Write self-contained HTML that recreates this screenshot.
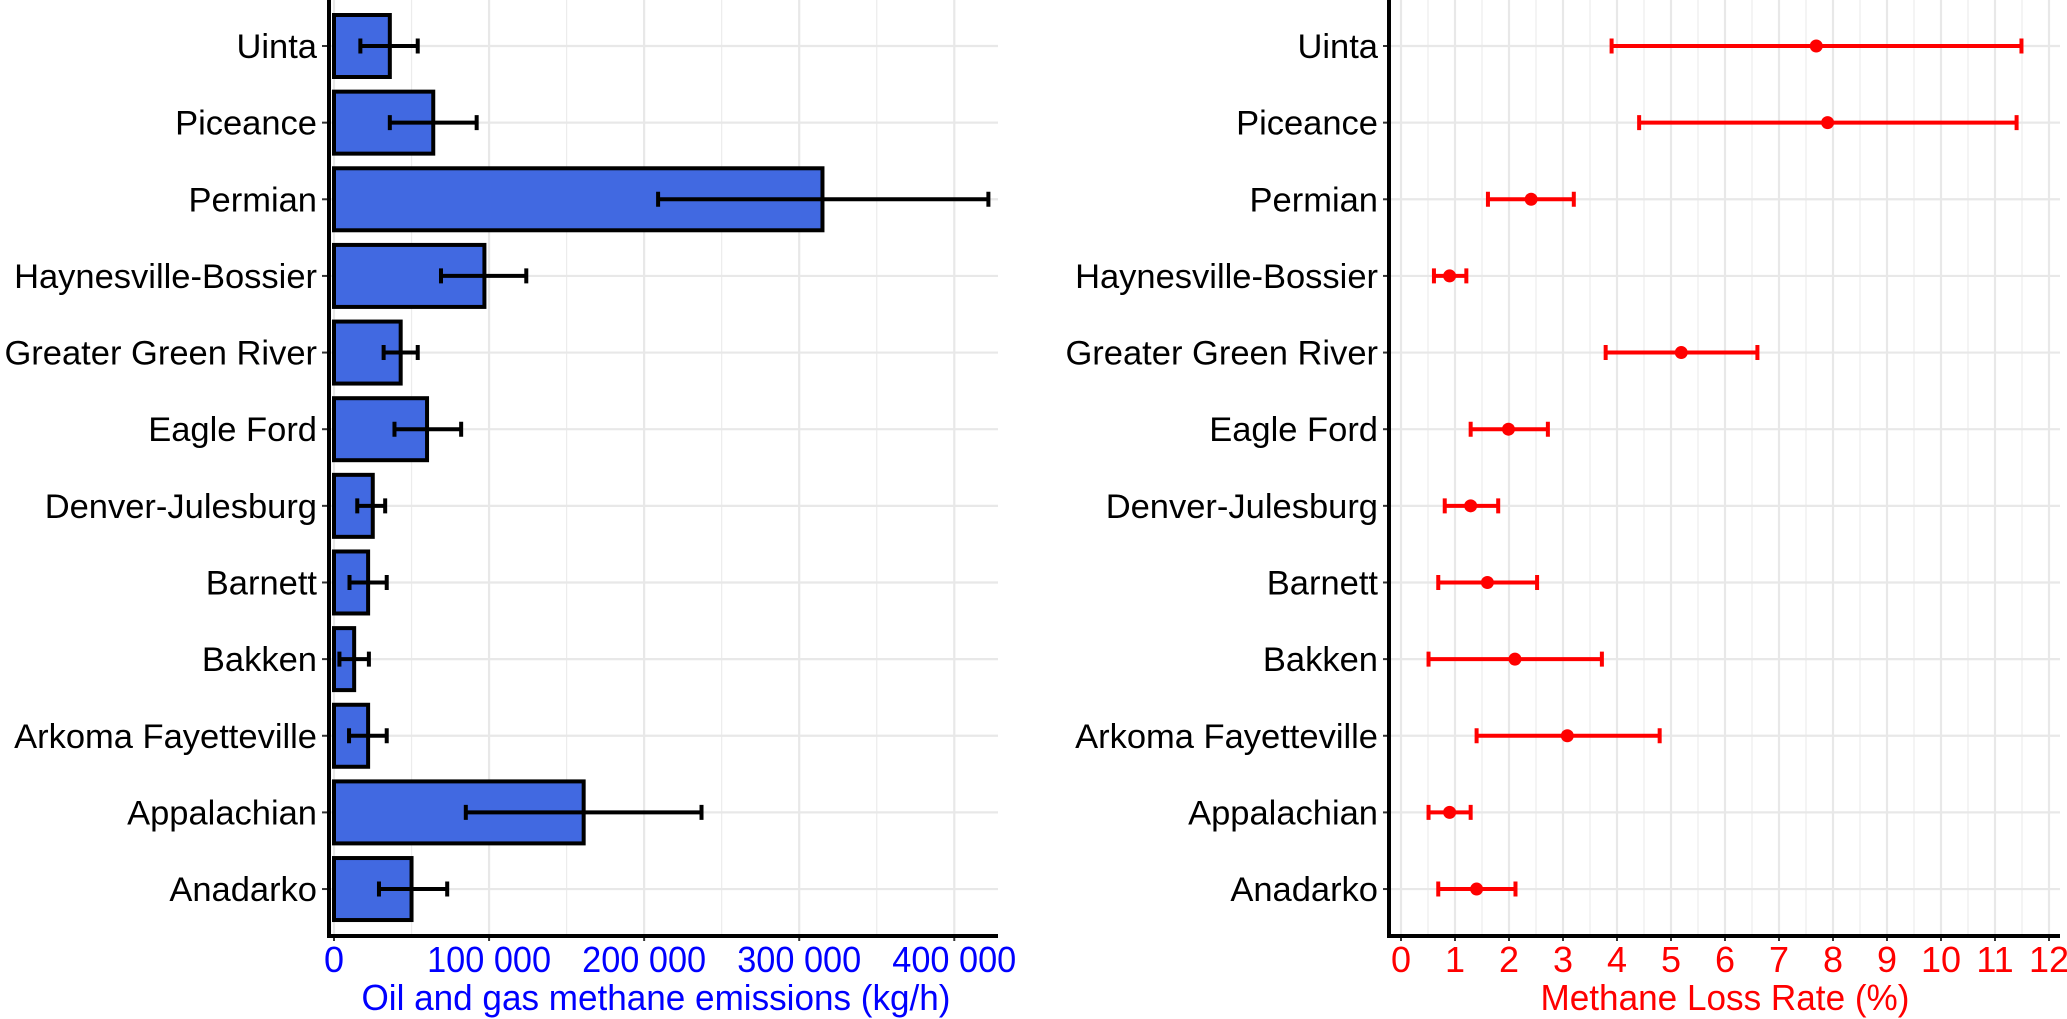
<!DOCTYPE html>
<html><head><meta charset="utf-8"><style>
html,body{margin:0;padding:0;background:#fff;}
svg{display:block;font-family:"Liberation Sans",Arial,sans-serif;}
</style></head><body>
<svg id="chart" width="2067" height="1019" viewBox="0 0 2067 1019" xmlns="http://www.w3.org/2000/svg">
<g id="left"></g>
<g id="right"></g>
</svg>
<script>
const basins = ["Uinta","Piceance","Permian","Haynesville-Bossier","Greater Green River","Eagle Ford","Denver-Julesburg","Barnett","Bakken","Arkoma Fayetteville","Appalachian","Anadarko"];
const emissions = [36000,64000,315000,97000,43000,60000,25000,22000,13000,22000,161000,50000];
const emissionsLow = [17000,36000,209000,69000,32000,39000,15000,10000,3500,9700,85000,29000];
const emissionsHigh = [54000,92000,422000,124000,54000,82000,33000,34000,22500,34000,237000,73000];
const lossRate = [7.69,7.90,2.41,0.90,5.19,1.99,1.29,1.60,2.11,3.08,0.90,1.40];
const lossLow = [3.90,4.41,1.61,0.61,3.79,1.29,0.81,0.69,0.51,1.40,0.51,0.69];
const lossHigh = [11.49,11.40,3.20,1.21,6.60,2.72,1.80,2.52,3.72,4.79,1.29,2.12];
const leftTicks = [0,100000,200000,300000,400000];
const leftTickLabels = ["0","100 000","200 000","300 000","400 000"];
const rightTicks = [0,1,2,3,4,5,6,7,8,9,10,11,12];

const NS="http://www.w3.org/2000/svg";
function mk(parent,tag,attrs,text){const e=document.createElementNS(NS,tag);for(const k in attrs)e.setAttribute(k,attrs[k]);if(text!==undefined)e.textContent=text;parent.appendChild(e);return e;}
const yPos=i=>46+i*76.64;
const yTop=0, yBot=934;
const xL=v=>334+v*155.07/100000;
const xR=v=>1401+v*54;

// LEFT PANEL
const L=document.getElementById('left');
for(let v=50000;v<=400000;v+=100000){const g=mk(L,'line',{x1:xL(v),x2:xL(v),y1:yTop,y2:yBot,stroke:'#ececec','stroke-width':1.2});

}
leftTicks.forEach(v=>{const g=mk(L,'line',{x1:xL(v),x2:xL(v),y1:yTop,y2:yBot,stroke:'#e8e8e8','stroke-width':2.2});

});
basins.forEach((b,i)=>{const g=mk(L,'line',{x1:329,x2:998,y1:yPos(i),y2:yPos(i),stroke:'#e8e8e8','stroke-width':2.2});

});
basins.forEach((b,i)=>{
  const y=yPos(i);
  const r=mk(L,'rect',{x:xL(0),y:y-31,width:xL(emissions[i])-xL(0),height:62,fill:'#4169e1',stroke:'#000','stroke-width':4});
  
  
  const eb=mk(L,'path',{d:`M${xL(emissionsLow[i])},${y}H${xL(emissionsHigh[i])}M${xL(emissionsLow[i])},${y-7.5}V${y+7.5}M${xL(emissionsHigh[i])},${y-7.5}V${y+7.5}`,stroke:'#000','stroke-width':4,fill:'none'});
  
  
  const t=mk(L,'text',{x:317,y:y+12,'text-anchor':'end','font-size':34.5,fill:'#000'},b);
  
  
  const tk=mk(L,'line',{x1:322,x2:329,y1:y,y2:y,stroke:'#333','stroke-width':2});
  
  
});
leftTicks.forEach((v,i)=>{
  const tk=mk(L,'line',{x1:xL(v),x2:xL(v),y1:934,y2:941,stroke:'#333','stroke-width':2});
  
  
  const attrs={x:xL(v),y:972,'text-anchor':'middle','font-size':36,fill:'#0000ff'};
  if(leftTickLabels[i].length>1){attrs.textLength=124;attrs.lengthAdjust='spacingAndGlyphs';}
  const t=mk(L,'text',attrs,leftTickLabels[i]);
  
  
});
let ax=mk(L,'path',{d:'M329,0V936H998',stroke:'#000','stroke-width':4,fill:'none'});


let tt=mk(L,'text',{x:656,y:1010,'text-anchor':'middle','font-size':36,fill:'#0000ff',textLength:589,lengthAdjust:'spacingAndGlyphs'},'Oil and gas methane emissions (kg/h)');



// RIGHT PANEL
const R=document.getElementById('right');
for(let v=0.5;v<12;v+=1){const g=mk(R,'line',{x1:xR(v),x2:xR(v),y1:yTop,y2:yBot,stroke:'#ececec','stroke-width':1.2});

}
rightTicks.forEach(v=>{const g=mk(R,'line',{x1:xR(v),x2:xR(v),y1:yTop,y2:yBot,stroke:'#e8e8e8','stroke-width':2.2});

});
basins.forEach((b,i)=>{
  const y=yPos(i);
  const g=mk(R,'line',{x1:1389,x2:2060,y1:y,y2:y,stroke:'#e8e8e8','stroke-width':2.2});
  
  
});
basins.forEach((b,i)=>{
  const y=yPos(i);
  const eb=mk(R,'path',{d:`M${xR(lossLow[i])},${y}H${xR(lossHigh[i])}M${xR(lossLow[i])},${y-7.5}V${y+7.5}M${xR(lossHigh[i])},${y-7.5}V${y+7.5}`,stroke:'#ff0000','stroke-width':4,fill:'none'});
  
  
  const p=mk(R,'circle',{cx:xR(lossRate[i]),cy:y,r:6.5,fill:'#ff0000'});
  
  
  const t=mk(R,'text',{x:1378,y:y+12,'text-anchor':'end','font-size':34.5,fill:'#000'},b);
  
  
  const tk=mk(R,'line',{x1:1383,x2:1389,y1:y,y2:y,stroke:'#333','stroke-width':2});
  
  
});
rightTicks.forEach(v=>{
  const tk=mk(R,'line',{x1:xR(v),x2:xR(v),y1:934,y2:941,stroke:'#333','stroke-width':2});
  
  
  const t=mk(R,'text',{x:xR(v),y:972,'text-anchor':'middle','font-size':36,fill:'#ff0000'},String(v));
  
  
});
ax=mk(R,'path',{d:'M1389,0V936H2060',stroke:'#000','stroke-width':4,fill:'none'});


tt=mk(R,'text',{x:1725,y:1010,'text-anchor':'middle','font-size':36,fill:'#ff0000',textLength:369,lengthAdjust:'spacingAndGlyphs'},'Methane Loss Rate (%)');


</script>
</body></html>
